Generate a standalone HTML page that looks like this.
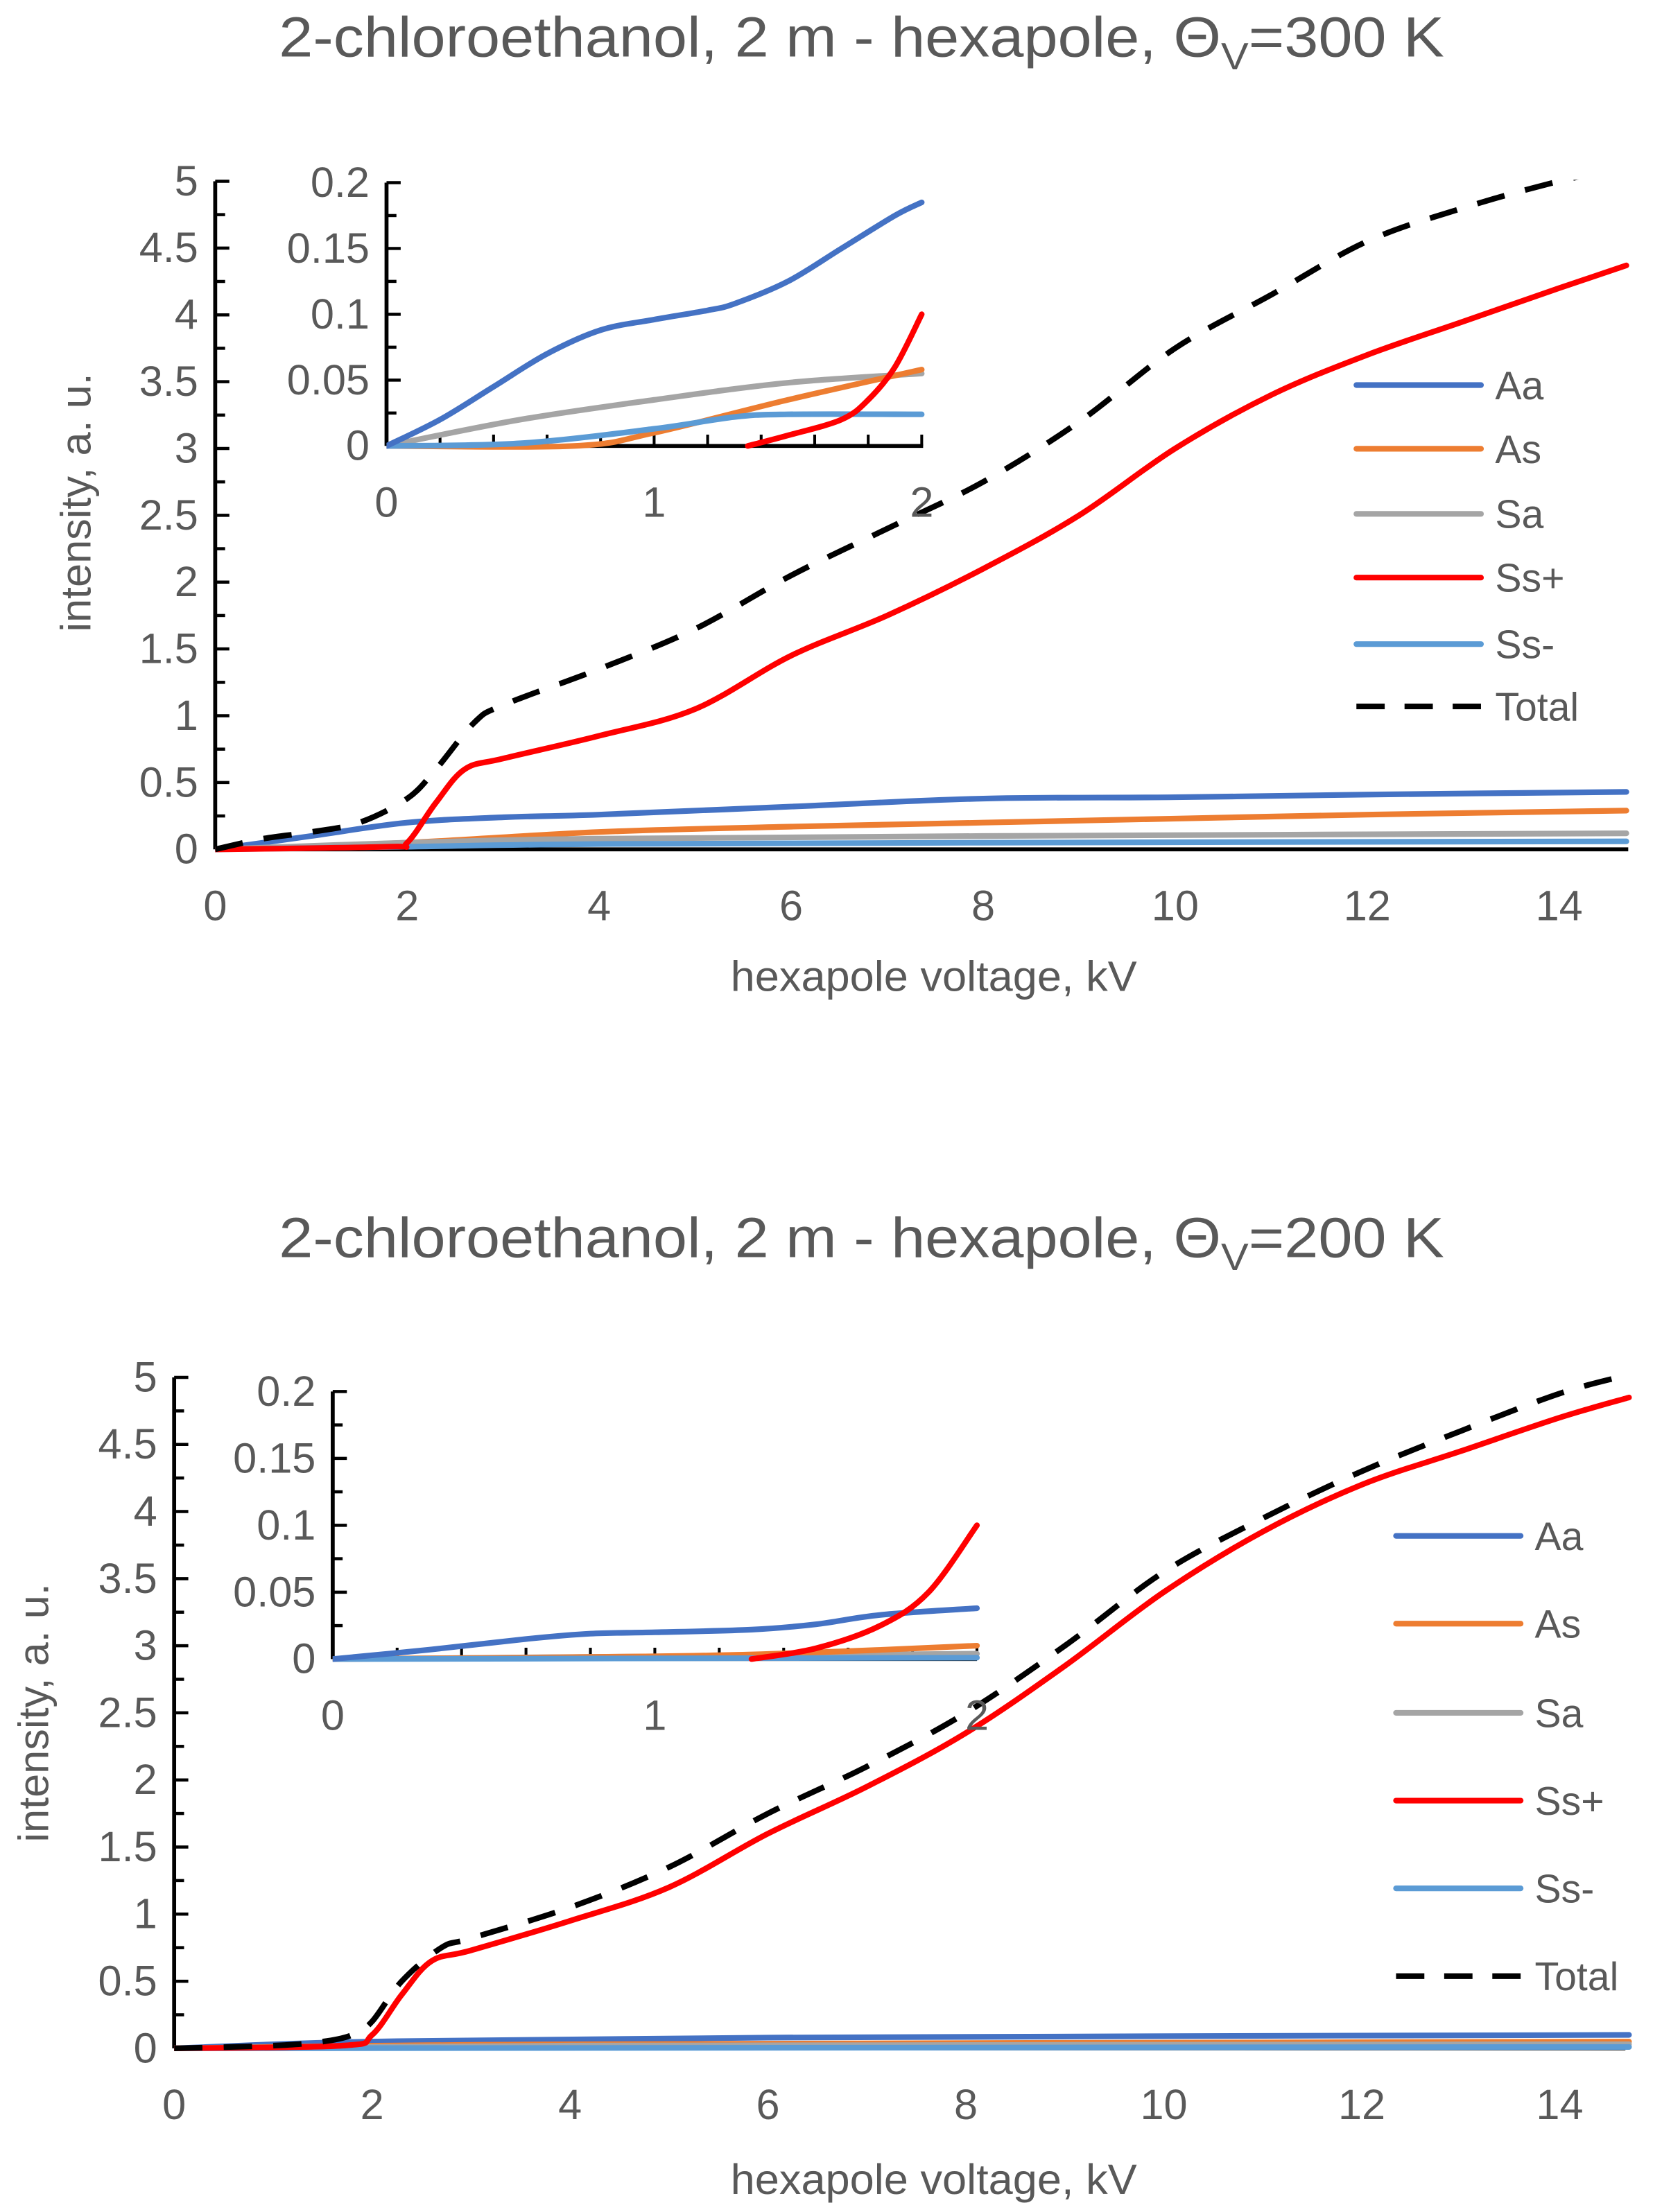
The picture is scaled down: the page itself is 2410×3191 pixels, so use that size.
<!DOCTYPE html>
<html><head><meta charset="utf-8"><style>
html,body{margin:0;padding:0;background:#fff}
svg{display:block}
text{font-family:"Liberation Sans",sans-serif;fill:#595959}
</style></head><body>
<svg id="fig" width="2410" height="3191" viewBox="0 0 1180.2 1562.6"></svg>
<script>
// ---------- data: chart 1 (300 K) main ----------
const x1Total=[0,0.5,1,1.5,2,2.3,2.7,3,4,5,6,7,8,9,10,11,12,13,14,14.7];
const y1Total=[0,0.08,0.13,0.2,0.38,0.6,0.95,1.08,1.35,1.65,2.05,2.4,2.75,3.2,3.75,4.15,4.55,4.8,5.0,5.1];
const x1Ssp=[0,1.8,2,2.3,2.6,3,4,5,6,7,8,9,10,11,12,13,14,14.7];
const y1Ssp=[0,0.02,0.05,0.35,0.6,0.68,0.85,1.05,1.45,1.75,2.1,2.5,3.0,3.4,3.7,3.95,4.2,4.37];
const x1Aa=[0,1,2,3,4,6,8,10,12,14.7];
const y1Aa=[0,0.1,0.2,0.24,0.26,0.32,0.38,0.39,0.41,0.43];
const x1As=[0,2,4,6,8,10,12,14.7];
const y1As=[0,0.05,0.13,0.17,0.2,0.23,0.26,0.29];
const x1Sa=[0,2,4,8,14.7];
const y1Sa=[0,0.05,0.08,0.1,0.12];
const x1Ssm=[0,2,4,8,14.7];
const y1Ssm=[0,0.02,0.04,0.05,0.06];
// ---------- chart 1 inset ----------
const xi1Aa=[0,0.2,0.4,0.6,0.8,1,1.2,1.3,1.5,1.7,1.9,2];
const yi1Aa=[0,0.02,0.045,0.07,0.088,0.096,0.103,0.108,0.125,0.15,0.175,0.185];
const xi1Sa=[0,0.5,1,1.5,2];
const yi1Sa=[0,0.02,0.035,0.048,0.055];
const xi1As=[0,0.7,1,1.5,2];
const yi1As=[0,0,0.01,0.035,0.058];
const xi1Ssm=[0,0.5,1,1.3,1.5,2];
const yi1Ssm=[0,0.002,0.013,0.022,0.024,0.024];
const xi1Ssp=[1.35,1.5,1.7,1.8,1.9,2];
const yi1Ssp=[0,0.008,0.02,0.035,0.06,0.1];
// ---------- chart 2 (200 K) main ----------
const x2Total=[0,1,1.5,1.8,2,2.3,2.7,3,4,5,6,7,8,9,10,11,12,13,14,14.7];
const y2Total=[0,0.02,0.05,0.1,0.2,0.5,0.75,0.82,1.05,1.35,1.75,2.1,2.5,3.0,3.55,3.95,4.3,4.6,4.88,5.02];
const x2Ssp=[0,1.7,2,2.3,2.6,3,4,5,6,7,8,9,10,11,12,13,14,14.7];
const y2Ssp=[0,0.02,0.1,0.4,0.65,0.73,0.95,1.2,1.6,1.95,2.35,2.85,3.4,3.85,4.2,4.45,4.7,4.85];
const x2Aa=[0,2,6,14.7];
const y2Aa=[0,0.05,0.08,0.1];
const x2As=[0,4,14.7];
const y2As=[0,0.03,0.05];
const x2Sa=[0,4,14.7];
const y2Sa=[0,0.02,0.03];
const x2Ssm=[0,14.7];
const y2Ssm=[0,0.01];
// ---------- chart 2 inset ----------
const xi2Aa=[0,0.3,0.6,0.8,1,1.3,1.5,1.7,2];
const yi2Aa=[0,0.007,0.015,0.019,0.02,0.022,0.026,0.033,0.038];
const xi2As=[0,1,1.5,2];
const yi2As=[0,0.002,0.005,0.01];
const xi2Sa=[0,1,2];
const yi2Sa=[0,0.002,0.004];
const xi2Ssm=[0,2];
const yi2Ssm=[0,0.001];
const xi2Ssp=[1.3,1.5,1.7,1.85,2];
const yi2Ssp=[0,0.008,0.025,0.05,0.1];
// ---------- tick labels ----------
const mainYTicks=["0","0.5","1","1.5","2","2.5","3","3.5","4","4.5","5"];
const mainXTicks=["0","2","4","6","8","10","12","14"];
const insetYTicks=["0","0.05","0.1","0.15","0.2"];
const insetXTicks=["0","1","2"];
const legendLabels=["Aa","As","Sa","Ss+","Ss-","Total"];

const C={Aa:"#4472C4",As:"#ED7D31",Sa:"#A5A5A5",Ssp:"#FF0000",Ssm:"#5B9BD5",Total:"#000"};
const NS="http://www.w3.org/2000/svg";
const svg=document.getElementById('fig');
function mk(tag,attrs,parent){const e=document.createElementNS(NS,tag);for(const k in attrs)e.setAttribute(k,attrs[k]);(parent||svg).appendChild(e);return e;}
function pathD(xs,ys,sx,sy){
  const P=xs.map((x,i)=>[sx(x),sy(ys[i])]);
  let d="M"+P[0][0].toFixed(2)+","+P[0][1].toFixed(2);
  for(let i=0;i<P.length-1;i++){
    const p0=P[Math.max(0,i-1)],p1=P[i],p2=P[i+1],p3=P[Math.min(P.length-1,i+2)];
    const c1=[p1[0]+(p2[0]-p0[0])/6,p1[1]+(p2[1]-p0[1])/6];
    const c2=[p2[0]-(p3[0]-p1[0])/6,p2[1]-(p3[1]-p1[1])/6];
    d+=" C"+c1.map(v=>v.toFixed(2)).join(",")+" "+c2.map(v=>v.toFixed(2)).join(",")+" "+p2.map(v=>v.toFixed(2)).join(",");
  }
  return d;
}
let clipId=0;
function chart(o){
  const g=mk('g',{});
  
  
  const sx=v=>o.x0+(v)*o.kx, sy=v=>o.y0-(v/o.ymax)*(o.y0-o.ytop);
  const id='clip'+(clipId++);
  const cp=mk('clipPath',{id:id},g);mk('rect',{x:o.x0,y:o.ytop-1,width:o.xend-o.x0+10,height:o.y0-o.ytop+4},cp);
  const ya=mk('line',{x1:o.x0,y1:o.ytop,x2:o.x0,y2:o.y0,stroke:"#000","stroke-width":2.8},g);
  
  const xa=mk('line',{x1:o.x0,y1:o.y0,x2:o.xend,y2:o.y0,stroke:"#000","stroke-width":2.8},g);
  
  const nY=o.yticks.length-1;
  for(let i=0;i<=nY*2;i++){
    const v=o.ymax*i/(nY*2), y=sy(v);
    mk('line',{x1:o.x0,y1:y,x2:o.x0+(i%2?7:10),y2:y,stroke:"#000","stroke-width":2.2},g);
  }
  o.yticks.forEach((t,i)=>{
    const tx=mk('text',{x:o.x0-12,y:sy(o.ymax*i/nY)+10,"text-anchor":"end","font-size":o.fs},g);
    tx.textContent=t;
    
  });
  o.xticks.forEach((t,i)=>{
    const tx=mk('text',{x:sx(i*o.xstep),y:o.y0+o.xlabOff,"text-anchor":"middle","font-size":o.fs},g);
    tx.textContent=t;
    
  });
  if(o.inset){for(let v=0.2;v<2.01;v+=0.2){mk('line',{x1:sx(v),y1:o.y0,x2:sx(v),y2:o.y0-8,stroke:"#000","stroke-width":2},g);}}
  const cg=mk('g',{"clip-path":"url(#"+id+")"},g);
  o.series.forEach(s=>{
    const p=mk('path',{d:pathD(s.x,s.y,sx,sy),fill:"none",stroke:C[s.k],"stroke-width":4,"stroke-linecap":"round","stroke-linejoin":"round"},cg);
    if(s.k==="Total"){p.setAttribute('stroke-dasharray','20 15');p.setAttribute('stroke-linecap','butt');}
    
    
  });
  return g;
}
function legend(x,ys,fs){
  const keys=["Aa","As","Sa","Ssp","Ssm","Total"];
  keys.forEach((k,i)=>{
    const g=mk('g',{});
    
    
    const l=mk('line',{x1:x,y1:ys[i],x2:x+88,y2:ys[i],stroke:C[k],"stroke-width":4,"stroke-linecap":k==="Total"?"butt":"round"},g);
    if(k==="Total")l.setAttribute('stroke-dasharray','20 14');
    const t=mk('text',{x:x+98,y:ys[i]+10,"font-size":fs},g);t.textContent=legendLabels[i];
  });
}
function title(y,txt,num){
  const t=mk('text',{x:197,y:y,"font-size":40,textLength:823,lengthAdjust:"spacingAndGlyphs"});
  
  t.appendChild(document.createTextNode(txt));
  const s=mk('tspan',{"font-size":27,dy:9},t);s.textContent="V";
  const r=mk('tspan',{dy:-9},t);r.textContent="="+(num===1?"300":"200")+" K";
}
function labels(xlY,ylX,ylY,num){
  const xl=mk('text',{x:516,y:xlY,"font-size":30,textLength:287,lengthAdjust:"spacingAndGlyphs"});xl.textContent="hexapole voltage, kV";
  
  const yl=mk('text',{x:ylX,y:ylY,"text-anchor":"middle","font-size":30,transform:`rotate(-90 ${ylX} ${ylY})`});yl.textContent="intensity, a. u.";
  
}
// chart 1
title(40,"2-chloroethanol, 2 m - hexapole, Θ",1);
chart({name:'chart1-main',x0:152,y0:600,ytop:128,ymax:5,kx:67.8,xend:1150,xstep:2,yticks:mainYTicks,xticks:mainXTicks,fs:30,xlabOff:50,
 series:[{k:"Aa",x:x1Aa,y:y1Aa},{k:"As",x:x1As,y:y1As},{k:"Sa",x:x1Sa,y:y1Sa},{k:"Ssm",x:x1Ssm,y:y1Ssm},{k:"Ssp",x:x1Ssp,y:y1Ssp},{k:"Total",x:x1Total,y:y1Total}]});
chart({name:'chart1-inset',inset:true,x0:273,y0:315,ytop:129,ymax:0.2,kx:189,xend:652,xstep:1,yticks:insetYTicks,xticks:insetXTicks,fs:30,xlabOff:50,
 series:[{k:"Sa",x:xi1Sa,y:yi1Sa},{k:"As",x:xi1As,y:yi1As},{k:"Ssm",x:xi1Ssm,y:yi1Ssm},{k:"Ssp",x:xi1Ssp,y:yi1Ssp},{k:"Aa",x:xi1Aa,y:yi1Aa}]});
legend(958,[272,317,363,408,455,499],28);
labels(700,64,355,1);
// chart 2
title(888,"2-chloroethanol, 2 m - hexapole, Θ",2);
chart({name:'chart2-main',x0:123,y0:1447,ytop:973,ymax:5,kx:69.9,xend:1148,xstep:2,yticks:mainYTicks,xticks:mainXTicks,fs:30,xlabOff:50,
 series:[{k:"Aa",x:x2Aa,y:y2Aa},{k:"As",x:x2As,y:y2As},{k:"Sa",x:x2Sa,y:y2Sa},{k:"Ssm",x:x2Ssm,y:y2Ssm},{k:"Ssp",x:x2Ssp,y:y2Ssp},{k:"Total",x:x2Total,y:y2Total}]});
chart({name:'chart2-inset',inset:true,x0:235,y0:1172,ytop:983,ymax:0.2,kx:227.5,xend:690,xstep:1,yticks:insetYTicks,xticks:insetXTicks,fs:30,xlabOff:50,
 series:[{k:"Sa",x:xi2Sa,y:yi2Sa},{k:"As",x:xi2As,y:yi2As},{k:"Ssm",x:xi2Ssm,y:yi2Ssm},{k:"Aa",x:xi2Aa,y:yi2Aa},{k:"Ssp",x:xi2Ssp,y:yi2Ssp}]});
legend(986,[1085,1147,1210,1272,1334,1396],28);
labels(1550,34,1210,2);
</script>
</body></html>
